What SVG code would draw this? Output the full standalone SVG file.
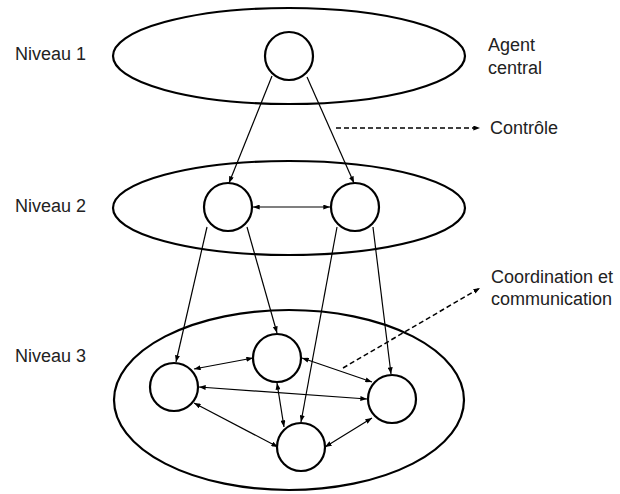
<svg xmlns="http://www.w3.org/2000/svg" width="620" height="494" viewBox="0 0 620 494">
<style>
.lvl{fill:none;stroke:#000;stroke-width:2.2}
.node{fill:#fff;stroke:#000;stroke-width:2.2}
.c{stroke:#000;stroke-width:1.2;fill:none}
.d{stroke:#000;stroke-width:1.5;fill:none;stroke-dasharray:5,3}
text{font-family:"Liberation Sans",Arial,sans-serif;font-size:18px;fill:#222}
</style>
<defs>
<marker id="ah" viewBox="0 0 8 6" refX="8" refY="3" markerWidth="7" markerHeight="5" markerUnits="userSpaceOnUse" orient="auto-start-reverse"><path d="M0,0L8,3L0,6z" fill="#000"/></marker>
</defs>
<g id="levels">
<ellipse id="level1" class="lvl" cx="289" cy="56" rx="176" ry="48"/>
<ellipse id="level2" class="lvl" cx="289" cy="208" rx="176" ry="47"/>
<ellipse id="level3" class="lvl" cx="289" cy="400" rx="175" ry="90"/>
</g>
<g id="connectors">
<line class="c" x1="272" y1="76" x2="229" y2="183" marker-end="url(#ah)"/>
<line class="c" x1="307" y1="77" x2="354" y2="183" marker-end="url(#ah)"/>
<line class="c" x1="253" y1="207" x2="330" y2="207" marker-start="url(#ah)" marker-end="url(#ah)"/>
<line class="c" x1="207" y1="227" x2="176" y2="362" marker-end="url(#ah)"/>
<line class="c" x1="247" y1="227" x2="277" y2="333" marker-end="url(#ah)"/>
<line class="c" x1="337" y1="227" x2="301" y2="422" marker-end="url(#ah)"/>
<line class="c" x1="373" y1="227" x2="391" y2="374" marker-end="url(#ah)"/>
<line class="c" x1="194" y1="369" x2="253" y2="358" marker-start="url(#ah)" marker-end="url(#ah)"/>
<line class="c" x1="302" y1="358" x2="372" y2="382" marker-start="url(#ah)" marker-end="url(#ah)"/>
<line class="c" x1="199" y1="387" x2="367" y2="399" marker-start="url(#ah)" marker-end="url(#ah)"/>
<line class="c" x1="277" y1="383" x2="284" y2="427" marker-start="url(#ah)" marker-end="url(#ah)"/>
<line class="c" x1="194" y1="403" x2="278" y2="447" marker-start="url(#ah)" marker-end="url(#ah)"/>
<line class="c" x1="325" y1="447" x2="372" y2="418" marker-start="url(#ah)" marker-end="url(#ah)"/>
<line class="d" x1="336" y1="128" x2="480" y2="128" marker-end="url(#ah)"/>
<line class="d" x1="343" y1="368" x2="480" y2="288" marker-end="url(#ah)"/>
</g>
<g id="n-central"><circle class="node" cx="289" cy="56" r="24"/></g>
<g id="n2-left"><circle class="node" cx="228" cy="207" r="24"/></g>
<g id="n2-right"><circle class="node" cx="355" cy="207" r="24"/></g>
<g id="n3-a"><circle class="node" cx="174" cy="387" r="24"/></g>
<g id="n3-b"><circle class="node" cx="277" cy="358" r="24"/></g>
<g id="n3-c"><circle class="node" cx="392" cy="399" r="24"/></g>
<g id="n3-d"><circle class="node" cx="301" cy="447" r="24"/></g>
<g id="labels">
<text x="15" y="60">Niveau 1</text>
<text x="15" y="212">Niveau 2</text>
<text x="15" y="362">Niveau 3</text>
<text x="488" y="51">Agent</text>
<text x="488" y="74">central</text>
<text x="490" y="134">Contrôle</text>
<text x="491" y="283">Coordination et</text>
<text x="491" y="305">communication</text>
</g>
</svg>
